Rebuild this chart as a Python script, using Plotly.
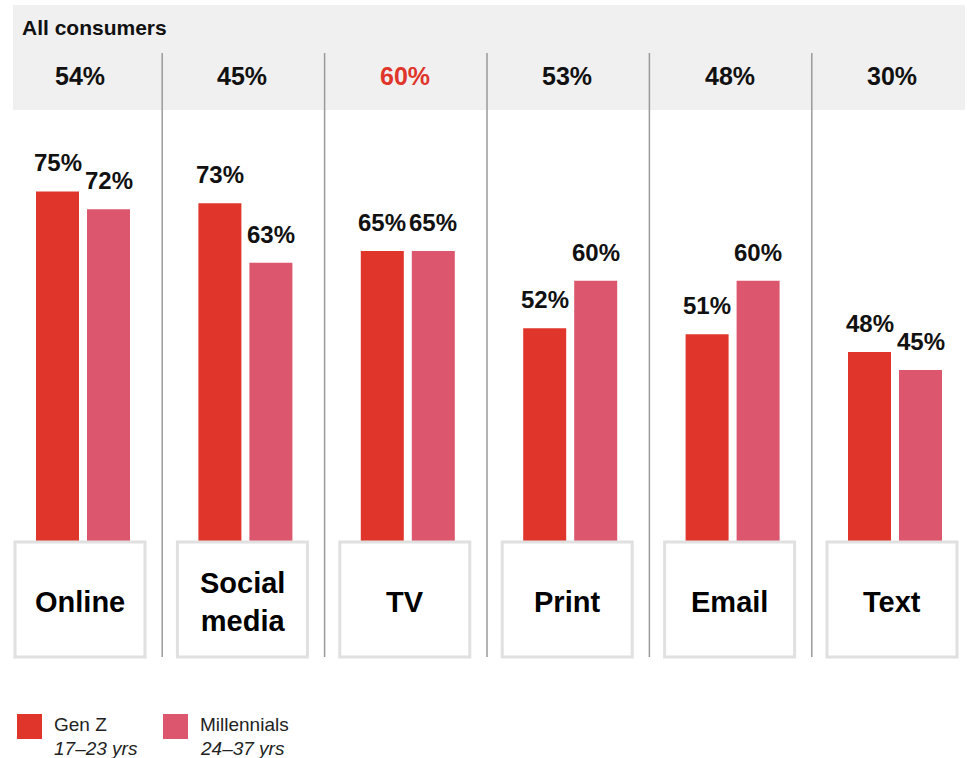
import plotly.graph_objects as go

# ---- data -------------------------------------------------------------
channels = ["Online", "Social<br>media", "TV", "Print", "Email", "Text"]
all_consumers = [54, 45, 60, 53, 48, 30]
gen_z = [75, 73, 65, 52, 51, 48]
millennials = [72, 63, 65, 60, 60, 45]
highlight_channel = "TV"

series_names = ["Gen Z", "Millennials"]
series_ages = ["17–23 yrs", "24–37 yrs"]

# ---- styling ----------------------------------------------------------
W, H = 967, 758
RED = "#e0352a"
PINK = "#dc566d"
HEADER_BG = "#f0f0f0"
BOX_LINE = "#e0e0e0"
DIVIDER = "#9a9a9a"
FONT = "Liberation Sans, Arial, Helvetica, sans-serif"

# pixel geometry of the category grid
first_center_px = 83.0
step_px = 162.4
x_lo = -first_center_px / step_px
x_hi = x_lo + W / step_px

base_px = 637.7          # pixel row of value 0
px_per_unit = 5.95
y_hi = base_px / px_per_unit
y_lo = -(H - base_px) / px_per_unit

bar_w = 43 / step_px
inner_gap = 8 / step_px
x_pos = list(range(len(channels)))


def px_x(p):
    return p / W


def px_y(p):
    return 1 - p / H


fig = go.Figure()

fig.add_trace(go.Bar(
    x=x_pos, y=gen_z, name=series_names[0],
    width=bar_w, offset=-(bar_w + inner_gap / 2),
    marker=dict(color=RED, line=dict(width=0)), showlegend=False,
    hoverinfo="y",
))
fig.add_trace(go.Bar(
    x=x_pos, y=millennials, name=series_names[1],
    width=bar_w, offset=inner_gap / 2,
    marker=dict(color=PINK, line=dict(width=0)), showlegend=False,
    hoverinfo="y",
))

shapes = []
annotations = []

# grey header band with "All consumers" figures
shapes.append(dict(type="rect", xref="paper", yref="paper",
                   x0=px_x(13), x1=px_x(965), y0=px_y(110), y1=px_y(5),
                   fillcolor=HEADER_BG, line=dict(width=0), layer="below"))
annotations.append(dict(xref="paper", yref="paper", x=px_x(20), y=px_y(27),
                        xanchor="left", yanchor="middle", showarrow=False,
                        text="<b>All consumers</b>",
                        font=dict(family=FONT, size=21, color="#111")))

box_shift = -3 / step_px
for i, (ch, v) in enumerate(zip(channels, all_consumers)):
    color = RED if ch == highlight_channel else "#111"
    annotations.append(dict(xref="x", yref="paper", x=i + box_shift, y=px_y(76),
                            xanchor="center", yanchor="middle", showarrow=False,
                            text=f"<b>{v}%</b>",
                            font=dict(family=FONT, size=25, color=color)))

# vertical dividers between channels
for i in range(len(channels) - 1):
    xd = i + 0.5 - 2 / step_px
    shapes.append(dict(type="line", xref="x", yref="paper",
                       x0=xd, x1=xd, y0=px_y(657), y1=px_y(53),
                       line=dict(color=DIVIDER, width=1.5), layer="above"))

# value labels above each bar
for i in x_pos:
    for vals, off in ((gen_z, -(bar_w + inner_gap) / 2), (millennials, (bar_w + inner_gap) / 2)):
        annotations.append(dict(xref="x", yref="y", x=i + off, y=vals[i],
                                xanchor="center", yanchor="bottom", yshift=13,
                                showarrow=False, text=f"<b>{vals[i]}%</b>",
                                font=dict(family=FONT, size=24, color="#111")))

# white label boxes covering the bar bases
box_half = 65 / step_px
for i, ch in enumerate(channels):
    cx = i + box_shift
    shapes.append(dict(type="rect", xref="x", yref="paper",
                       x0=cx - box_half, x1=cx + box_half,
                       y0=px_y(657), y1=px_y(542),
                       fillcolor="white", line=dict(color=BOX_LINE, width=3),
                       layer="above"))
    annotations.append(dict(xref="x", yref="paper", x=cx, y=px_y(602),
                            xanchor="center", yanchor="middle", showarrow=False,
                            text=f"<b>{ch}</b>",
                            font=dict(family=FONT, size=29, color="#000")))

# legend
legend_items = [(17, RED), (163, PINK)]
for (lx, col), name, age in zip(legend_items, series_names, series_ages):
    shapes.append(dict(type="rect", xref="paper", yref="paper",
                       x0=px_x(lx), x1=px_x(lx + 25), y0=px_y(739), y1=px_y(714),
                       fillcolor=col, line=dict(width=0)))
    annotations.append(dict(xref="paper", yref="paper", x=px_x(lx + 35), y=px_y(724),
                            xanchor="left", yanchor="middle", showarrow=False,
                            text=name, font=dict(family=FONT, size=19, color="#222")))
    annotations.append(dict(xref="paper", yref="paper", x=px_x(lx + 35), y=px_y(748),
                            xanchor="left", yanchor="middle", showarrow=False,
                            text=f"<i>{age}</i>",
                            font=dict(family=FONT, size=19, color="#222")))

fig.update_layout(
    width=W, height=H,
    margin=dict(l=0, r=0, t=0, b=0),
    paper_bgcolor="white", plot_bgcolor="white",
    barmode="overlay",
    xaxis=dict(range=[x_lo, x_hi], visible=False, fixedrange=True),
    yaxis=dict(range=[y_lo, y_hi], visible=False, fixedrange=True),
    shapes=shapes, annotations=annotations,
    showlegend=False,
)

fig.write_html("out.html")
